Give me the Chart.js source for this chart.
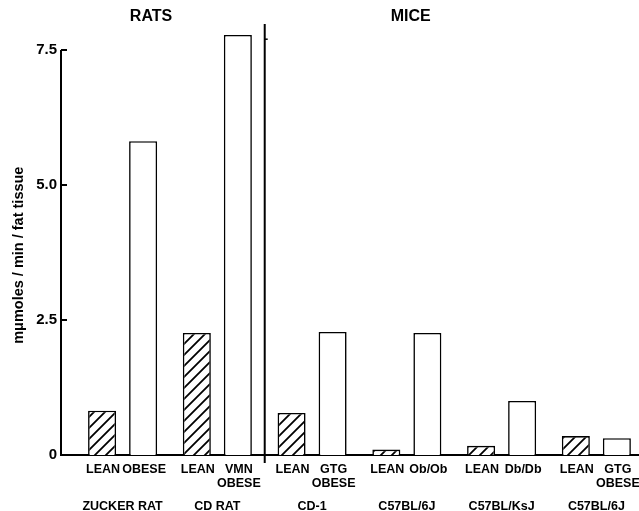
<!DOCTYPE html>
<html>
<head>
<meta charset="utf-8">
<script src="https://cdn.jsdelivr.net/npm/chart.js@4.4.0/dist/chart.umd.min.js"></script>
<style>
  html, body { margin: 0; padding: 0; background: #fff; overflow: hidden; }
</style>
</head>
<body>
<canvas id="chart" width="639" height="511"></canvas>
<script>
// data
const groups      = ['ZUCKER RAT', 'CD RAT', 'CD-1', 'C57BL/6J', 'C57BL/KsJ', 'C57BL/6J'];
const leanLabels  = ['LEAN', 'LEAN', 'LEAN', 'LEAN', 'LEAN', 'LEAN'];
const obeseLabels = ['OBESE', ['VMN', 'OBESE'], ['GTG', 'OBESE'], 'Ob/Ob', 'Db/Db', ['GTG', 'OBESE']];
const leanValues  = [0.82, 2.26, 0.78, 0.10, 0.17, 0.35];
const obeseValues = [5.81, 7.78, 2.28, 2.26, 1.00, 0.31];
const yTicks      = [0, 2.5, 5.0, 7.5];
const yTitle      = 'mμmoles / min / fat tissue';

const FONT = '"Liberation Sans", Arial, sans-serif';

const canvas = document.getElementById('chart');
const ctx = canvas.getContext('2d');

// diagonal hatch for the lean bars
const pc = document.createElement('canvas');
pc.width = pc.height = 11;
const p = pc.getContext('2d');
p.fillStyle = '#fff';
p.fillRect(0, 0, 11, 11);
p.strokeStyle = '#000';
p.lineWidth = 1.8;
p.beginPath();
p.moveTo(-1, 12); p.lineTo(12, -1);
p.moveTo(-1, 1);  p.lineTo(1, -1);
p.moveTo(10, 12); p.lineTo(12, 10);
p.stroke();
const hatch = ctx.createPattern(pc, 'repeat');

// axis line, divider, bar labels and headings
const decorations = {
  id: 'decorations',
  afterDraw(chart) {
    const c = chart.ctx, area = chart.chartArea;
    const xs = chart.scales.x, ys = chart.scales.y;
    c.save();
    c.strokeStyle = '#000';
    c.fillStyle = '#000';

    // y axis from 0 to 7.5 with inward ticks
    c.lineWidth = 2;
    c.beginPath();
    c.moveTo(area.left, ys.getPixelForValue(0) + 1);
    c.lineTo(area.left, ys.getPixelForValue(yTicks[yTicks.length - 1]));
    c.stroke();
    yTicks.slice(1).forEach(v => {
      const py = ys.getPixelForValue(v);
      c.beginPath();
      c.moveTo(area.left, py);
      c.lineTo(area.left + 6, py);
      c.stroke();
    });

    // rats / mice divider
    const dx = xs.getPixelForValue(1.5);
    c.beginPath();
    c.moveTo(dx, area.top + 1);
    c.lineTo(dx, area.bottom + 8);
    c.stroke();
    c.lineWidth = 1.5;
    c.beginPath();
    c.moveTo(dx, ys.getPixelForValue(7.7));
    c.lineTo(dx + 3, ys.getPixelForValue(7.7));
    c.stroke();

    // labels under each bar
    c.font = 'bold 12.5px ' + FONT;
    c.textAlign = 'center';
    c.textBaseline = 'middle';
    [leanLabels, obeseLabels].forEach((labels, di) => {
      chart.getDatasetMeta(di).data.forEach((bar, i) => {
        [].concat(labels[i]).forEach((t, k) => {
          c.fillText(t, bar.x + 1, area.bottom + 15 + k * 14);
        });
      });
    });

    // headings
    c.font = 'bold 16px ' + FONT;
    c.fillText('RATS', xs.getPixelForValue(0.3), 17);
    c.fillText('MICE', xs.getPixelForValue(3.04), 17);

    // y title
    c.translate(19, ys.getPixelForValue(3.7));
    c.rotate(-Math.PI / 2);
    c.font = 'bold 14.5px ' + FONT;
    c.fillText(yTitle, 0, 0);
    c.restore();
  }
};

new Chart(ctx, {
  type: 'bar',
  data: {
    datasets: [{
      label: 'Lean',
      data: leanValues.map((v, i) => ({ x: i, y: v })),
      backgroundColor: hatch,
      borderColor: '#000',
      borderWidth: 1.6,
      categoryPercentage: 0.866,
      barPercentage: 0.683
    }, {
      label: 'Obese',
      data: obeseValues.map((v, i) => ({ x: i, y: v })),
      backgroundColor: '#fff',
      borderColor: '#000',
      borderWidth: 1.6,
      categoryPercentage: 0.866,
      barPercentage: 0.683
    }]
  },
  options: {
    responsive: false,
    animation: false,
    layout: { padding: { top: 23, left: 0, right: 0, bottom: 0 } },
    plugins: { legend: { display: false }, tooltip: { enabled: false } },
    scales: {
      x: {
        type: 'linear',
        offset: false,
        min: -0.65,
        max: 5.45,
        afterBuildTicks: s => { s.ticks = groups.map((g, i) => ({ value: i })); },
        afterFit: s => { s.height = 56; s.paddingLeft = 0; s.paddingRight = 0; },
        grid: { display: false, drawTicks: true, tickLength: 44, offset: false },
        border: { display: true, color: '#000', width: 2 },
        ticks: {
          padding: 0,
          maxRotation: 0,
          autoSkip: false,
          color: '#000',
          font: { family: FONT, size: 12.5, weight: 'bold' },
          callback: (v, i) => groups[i]
        }
      },
      y: {
        min: 0,
        max: 8,
        afterBuildTicks: s => { s.ticks = yTicks.map(v => ({ value: v })); },
        afterFit: s => { s.width = 61; },
        grid: { display: false, drawTicks: false },
        border: { display: false },
        ticks: {
          padding: 4,
          color: '#000',
          font: { family: FONT, size: 15, weight: 'bold' },
          callback: v => v === 0 ? '0' : v.toFixed(1)
        }
      }
    }
  },
  plugins: [decorations]
});
</script>
</body>
</html>
